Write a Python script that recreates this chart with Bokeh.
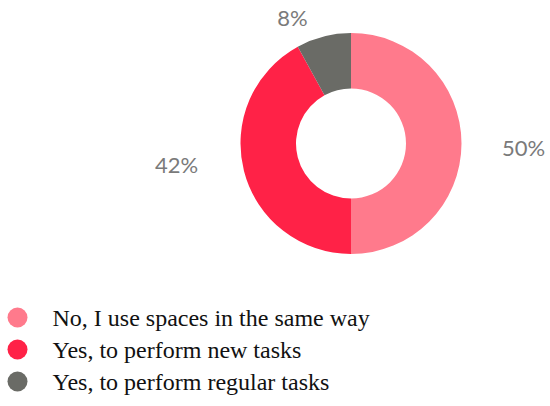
import math
from bokeh.plotting import figure
from bokeh.models import ColumnDataSource, Range1d
from bokeh.core.properties import value
from bokeh.embed import file_html
from bokeh.resources import INLINE

categories = ["No, I use spaces in the same way",
              "Yes, to perform new tasks",
              "Yes, to perform regular tasks"]
shares = [50, 42, 8]
labels = ["50%", "42%", "8%"]
colors = ["#FF7A8C", "#FF2247", "#6A6B66"]

W, H = 550, 406
def px(x):
    return x
def py(y):
    return H - y

# donut geometry (screen pixels)
cx, cy = px(350.5), py(143)
r_out, r_in = 110.5, 55

total = float(sum(shares))
starts, ends = [], []
cum = 0.0
for s in shares:
    a0 = math.pi / 2 - 2 * math.pi * cum / total
    cum += s
    a1 = math.pi / 2 - 2 * math.pi * cum / total
    starts.append(a0)
    ends.append(a1)

src = ColumnDataSource(dict(x=[cx] * len(shares), y=[cy] * len(shares),
                            start=starts, end=ends, color=colors))

p = figure(width=W, height=H, x_range=Range1d(0, W), y_range=Range1d(0, H),
           output_backend="svg", toolbar_location=None, min_border=0)
p.axis.visible = False
p.grid.visible = False
p.outline_line_color = None
p.background_fill_color = "white"

p.annular_wedge(x="x", y="y", inner_radius=r_in, outer_radius=r_out,
                inner_radius_units="screen", outer_radius_units="screen",
                start_angle="start", end_angle="end", direction="clock",
                fill_color="color", line_color=None, source=src)

# percentage labels: placed around the ring (layout offsets in screen px)
label_pos = [(523, 147), (176, 164), (292, 17)]
lx = [px(a) for a, b in label_pos]
ly = [py(b) for a, b in label_pos]
p.text(x=lx, y=ly, text=labels, text_font=value("Lato"), text_font_size="22px",
       text_color="#7a7a7a", text_align="center", text_baseline="middle")

# legend
leg_y = [py(317 + 32 * i) for i in range(len(categories))]
p.scatter(x=[px(17)] * len(categories), y=leg_y, size=20, marker="circle",
          fill_color=colors, line_color=None)
p.text(x=[px(52)] * len(categories), y=leg_y, text=categories,
       text_font=value("Liberation Serif"), text_font_size="24px",
       text_color="#111111", text_align="left", text_baseline="middle")

open("out.html", "w").write(file_html(p, INLINE))
